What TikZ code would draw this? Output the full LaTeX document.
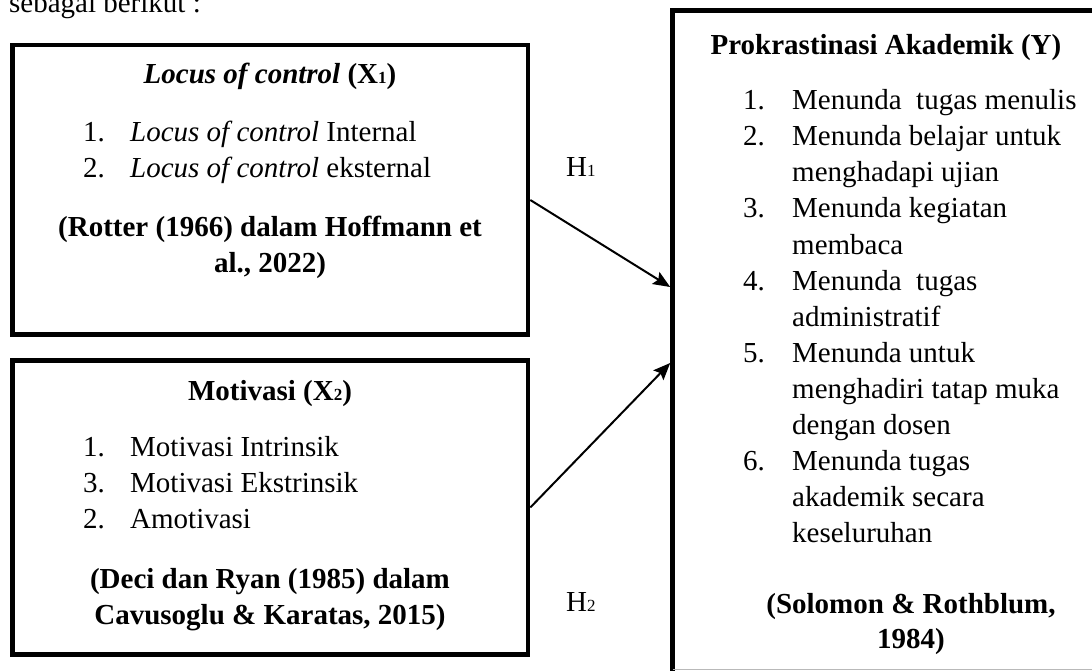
\documentclass[tikz,border=0pt]{standalone}
\usepackage{fontspec}
\setmainfont{Liberation Serif}
\usetikzlibrary{arrows.meta}
\newcommand\subdig[1]{{\fontsize{17}{17}\selectfont #1}}
\begin{document}
\begin{tikzpicture}[x=1pt,y=-1pt,
  every node/.style={font=\fontsize{29}{36}\selectfont, inner sep=0pt},
  box/.style={draw, line width=4.6pt, rectangle, inner sep=0pt},
  item/.style={anchor=base west},
  ctr/.style={anchor=base, font=\fontsize{29}{36}\selectfont\bfseries},
  arr/.style={line width=2pt, -{Stealth[length=17pt, width=14pt, inset=3pt]}},
  lbl/.style={anchor=base west}]
\useasboundingbox (0,0) rectangle (1092,671);
\clip (0,0) rectangle (1092,671);
% top running text (cut off)
\node[anchor=base east] (run) at (201,13) {sebagai berikut :};
% boxes
\node[box, minimum width=515.5pt, minimum height=289.5pt] (b1) at (270.25,189.75) {};
\node[box, minimum width=515.5pt, minimum height=294pt] (b2) at (270.25,507.5) {};
\node[box, minimum width=437.5pt, minimum height=689.5pt] (b3) at (891.25,355.25) {};
\draw[gray!55, line width=1pt] (672.5,669.5) -- (1092,669.5);
% box 1
\node[ctr] (t1) at (270,83.5) {\textit{Locus of control} (X\subdig{1})};
\node[item] (n11) at (83,141.5) {1.};
\node[item] (i11) at (130,141.5) {\textit{Locus of control} Internal};
\node[item] (n12) at (83,177.5) {2.};
\node[item] (i12) at (130,177.5) {\textit{Locus of control} eksternal};
\node[ctr] (c11) at (270,236.5) {(Rotter (1966) dalam Hoffmann et};
\node[ctr] (c12) at (270,272) {al., 2022)};
% box 2
\node[ctr] (t2) at (270,400.5) {Motivasi (X\subdig{2})};
\node[item] (n21) at (83,456.5) {1.};
\node[item] (i21) at (130,456.5) {Motivasi Intrinsik};
\node[item] (n22) at (83,492.5) {3.};
\node[item] (i22) at (130,492.5) {Motivasi Ekstrinsik};
\node[item] (n23) at (83,528.5) {2.};
\node[item] (i23) at (130,528.5) {Amotivasi};
\node[ctr] (c21) at (270,588.5) {(Deci dan Ryan (1985) dalam};
\node[ctr] (c22) at (270,624) {Cavusoglu \& Karatas, 2015)};
% box 3
\node[ctr] (t3) at (886,54.5) {Prokrastinasi Akademik (Y)};
\node[item] (n31) at (743,110) {1.};
\node[item] (i31) at (792,110) {Menunda~~tugas menulis};
\node[item] (n32) at (743,146) {2.};
\node[item] (i32a) at (792,146) {Menunda belajar untuk};
\node[item] (i32b) at (792,182) {menghadapi ujian};
\node[item] (n33) at (743,218) {3.};
\node[item] (i33a) at (792,218) {Menunda kegiatan};
\node[item] (i33b) at (792,254) {membaca};
\node[item] (n34) at (743,290) {4.};
\node[item] (i34a) at (792,290) {Menunda~~tugas};
\node[item] (i34b) at (792,326) {administratif};
\node[item] (n35) at (743,362) {5.};
\node[item] (i35a) at (792,362) {Menunda untuk};
\node[item] (i35b) at (792,398) {menghadiri tatap muka};
\node[item] (i35c) at (792,434) {dengan dosen};
\node[item] (n36) at (743,470) {6.};
\node[item] (i36a) at (792,470) {Menunda tugas};
\node[item] (i36b) at (792,506) {akademik secara};
\node[item] (i36c) at (792,542) {keseluruhan};
\node[ctr] (c31) at (911,613) {(Solomon \& Rothblum,};
\node[ctr] (c32) at (911,648) {1984)};
% hypothesis labels
\node[lbl] (h1) at (566,177) {H\subdig{1}};
\node[lbl] (h2) at (566,611) {H\subdig{2}};
% arrows
\draw[arr] ([yshift=-10.25pt]b1.east) -- ([yshift=68.25pt]b3.west);
\draw[arr] (b2.east) -- ([yshift=-7.75pt]b3.west);
\end{tikzpicture}
\end{document}
